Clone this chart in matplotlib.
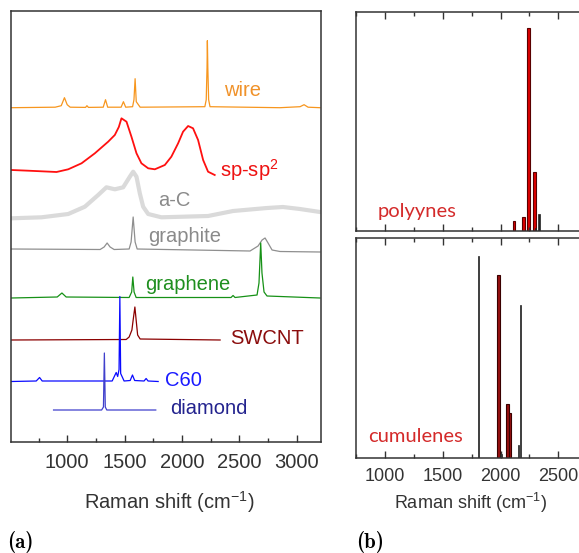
import matplotlib
matplotlib.use('Agg')
import matplotlib.pyplot as plt
from matplotlib.ticker import MultipleLocator

plt.rcParams['font.family'] = 'Liberation Sans'
plt.rcParams['mathtext.fontset'] = 'custom'
plt.rcParams['mathtext.rm'] = 'Liberation Sans'
plt.rcParams['mathtext.it'] = 'Liberation Sans:italic'
plt.rcParams['mathtext.bf'] = 'Liberation Sans:bold'

# ---- (a) measured Raman spectra: shift (cm-1), intensity above own baseline (a.u.)
wire_x = [512, 895, 948, 976, 1000, 1026, 1160, 1172, 1185, 1314, 1334, 1353,
          1470, 1490, 1510, 1570, 1582, 1592, 1602, 1636, 2200, 2212, 2219, 2222,
          2226, 2233, 2245, 2855, 3030, 3065, 3100, 3204]
wire_y = [0, 0.5, 2, 10, 3, 0.5, 0.3, 2, 0.3, 0.5, 8, 0.5,
          0.5, 6, 0.5, 1, 8, 29, 6, 0.5, 1, 8, 40, 67,
          40, 8, 1, 0, 1, 3, 0.5, 0]

spsp2_x = [515, 660, 776, 907, 1009, 1125, 1241, 1357, 1415, 1450, 1473, 1495,
           1517, 1560, 1604, 1647, 1706, 1764, 1851, 1908, 1967, 2010, 2054, 2097,
           2141, 2185, 2228, 2286]
spsp2_y = [5, 4.3, 3.7, 3, 5.7, 11.7, 21.7, 33.3, 40, 48, 56.7, 55,
           53.3, 38.3, 21.7, 11.7, 6.7, 5.7, 10, 18.3, 31.7, 43.3, 49, 46.7,
           35, 15, 3.3, 0]

ac_x = [515, 776, 1009, 1154, 1270, 1342, 1415, 1488, 1546, 1575, 1604, 1633,
        1662, 1706, 1821, 2228, 2446, 2742, 2881, 3029, 3204]
ac_y = [1.7, 2.7, 6, 13.3, 25, 32.7, 30.7, 32.7, 43.3, 48.3, 43.3, 26.7,
        13.3, 6, 2.7, 4, 9, 12, 13, 11, 8]

graphite_x = [512, 1287, 1322, 1348, 1374, 1409, 1540, 1557, 1575, 1592, 1610,
              2594, 2664, 2699, 2725, 2751, 2786, 2855, 3204]
graphite_y = [1, 0.5, 3, 7, 3, 0.5, 1, 8, 33, 8, 1,
              -1, 4, 10, 12, 7, 0, -1.5, -2]

graphene_x = [512, 913, 954, 991, 1540, 1562, 1572, 1583, 1601, 2428, 2446, 2463,
              2655, 2672, 2687, 2698, 2716, 2742, 3204]
graphene_y = [0, 1, 5, 1, 0.5, 6, 21, 6, 0.5, 0.5, 2.5, 0.5,
              3, 15, 55, 25, 6, 2, 0]

swcnt_x = [512, 1514, 1540, 1564, 1575, 1590, 1601, 1614, 1636, 2333]
swcnt_y = [0, 0.5, 3, 10, 20, 33, 20, 5, 1, 0]

c60_x = [512, 730, 759, 782, 1392, 1427, 1440, 1452, 1459, 1466, 1496, 1549,
         1569, 1588, 1670, 1688, 1705, 1793]
c60_y = [0, 0.5, 4, 0.5, 0.5, 9, 5, 12, 85, 8, 0.5, 1,
         6.5, 1, 0.5, 3, 0.5, 0]

diamond_x = [881, 1300, 1316, 1324, 1332, 1345, 1772]
diamond_y = [0, 0, 3, 57, 3, 0, 0]

# ---- (b) computed Raman lines
poly_red_x = [2117, 2197, 2240, 2292]
poly_red_h = [0.046, 0.064, 0.927, 0.27]
poly_blk_x = [2305, 2333]
poly_blk_h = [0.015, 0.078]

cum_red_x = [1984, 2059, 2082]
cum_red_h = [0.83, 0.245, 0.207]
cum_blk_x = [1811, 2004, 2154, 2171]
cum_blk_h = [0.92, 0.02, 0.06, 0.696]

fig = plt.figure(figsize=(5.79, 5.53), dpi=100)

# stacked spectra: (x, y, baseline offset, line colour, width, label, label pos, label colour)
spectra = [
    (wire_x, wire_y, 334.3, '#f7961e', 0.9, 'wire', (2367, 351), '#f0922a'),
    (spsp2_x, spsp2_y, 267, '#ff1010', 1.3, r'sp-sp$^2$', (2333, 272), '#ee1111'),
    (ac_x, ac_y, 222, '#dadada', 3.0, 'a-C', (1793, 242), '#8a8a8a'),
    (graphite_x, graphite_y, 192, '#8f8f8f', 0.9, 'graphite', (1705, 205), '#8a8a8a'),
    (graphene_x, graphene_y, 144, '#169116', 0.9, 'graphene', (1679, 157), '#1f8f1f'),
    (swcnt_x, swcnt_y, 102, '#8b0000', 0.9, 'SWCNT', (2420, 104), '#8b0d0d'),
    (c60_x, c60_y, 60.5, '#0a0aff', 0.9, 'C60', (1854, 61), '#1a1aff'),
    (diamond_x, diamond_y, 32, '#4040cc', 0.9, 'diamond', (1897, 33), '#23238e'),
]

ax = fig.add_axes([11 / 579, 1 - 442 / 553, 309.7 / 579, 431 / 553])
for xs, ys, off, col, lw, lab, (lx, ly), lcol in spectra:
    ax.plot(xs, [v + off for v in ys], color=col, lw=lw)
    ax.text(lx, ly, lab, color=lcol, fontsize=14.5, ha='left', va='center')

ax.set_xlim(510, 3210)
ax.set_ylim(0, 431)
ax.set_yticks([])
ax.xaxis.set_major_locator(MultipleLocator(500))
ax.xaxis.set_minor_locator(MultipleLocator(250))
ax.tick_params(axis='x', which='major', direction='in', length=5, width=1,
               labelsize=14.5, pad=8, colors='#333333')
ax.tick_params(axis='x', which='minor', direction='in', length=3, width=1, colors='#333333')
for s in ax.spines.values():
    s.set_color('#333333')
    s.set_linewidth(1.1)
fig.text(169 / 579, 1 - 502 / 553, r'Raman shift (cm$^{-1}$)', fontsize=14.5,
         ha='center', va='center', color='#333333')

# right panels: polyynes on top, cumulenes below
axb1 = fig.add_axes([356 / 579, 1 - 231 / 553, 271.7 / 579, 219 / 553])
axb2 = fig.add_axes([356 / 579, 1 - 458.3 / 553, 271.7 / 579, 220.3 / 553])

axb1.bar(poly_red_x, poly_red_h, width=24, color='#dd0000', edgecolor='#5a0000', lw=0.8)
axb1.bar(poly_blk_x, poly_blk_h, width=12, color='#222222', edgecolor='#222222', lw=0.5)
axb2.bar(cum_red_x, cum_red_h, width=22, color='#981010', edgecolor='#3a0000', lw=0.8)
axb2.bar(cum_blk_x, cum_blk_h, width=10, color='#222222', edgecolor='#222222', lw=0.5)

axb1.text(0.081, 0.087, 'polyynes', transform=axb1.transAxes, fontsize=14.5,
          family='Lato', color='#d42a2a', ha='left', va='center')
axb2.text(0.043, 0.097, 'cumulenes', transform=axb2.transAxes, fontsize=14.5,
          family='Lato', color='#d42a2a', ha='left', va='center')

for a in (axb1, axb2):
    a.set_xlim(750, 3100)
    a.set_ylim(0, 1)
    a.set_yticks([])
    a.set_xticks([1000, 1500, 2000, 2500, 3000])
    a.xaxis.set_minor_locator(MultipleLocator(250))
    a.tick_params(axis='x', which='both', direction='in', top=True, bottom=True,
                  width=1, colors='#333333', labelsize=13, pad=7)
    a.tick_params(axis='x', which='major', length=5)
    a.tick_params(axis='x', which='minor', length=3)
    for s in a.spines.values():
        s.set_color('#333333')
        s.set_linewidth(1.1)
axb1.tick_params(axis='x', labelbottom=False)
axb2.set_xticklabels(['1000', '1500', '2000', '2500', ''])
fig.text(470.5 / 579, 1 - 503 / 553, r'Raman shift (cm$^{-1}$)', fontsize=13,
         ha='center', va='center', color='#333333')

# panel letters
fig.text(7 / 579, 1 - 542 / 553, '(a)', fontsize=15, family='cmb10',
         ha='left', va='center')
fig.text(356 / 579, 1 - 542 / 553, '(b)', fontsize=15, family='cmb10',
         ha='left', va='center')

fig.savefig('out.png', dpi=100)
